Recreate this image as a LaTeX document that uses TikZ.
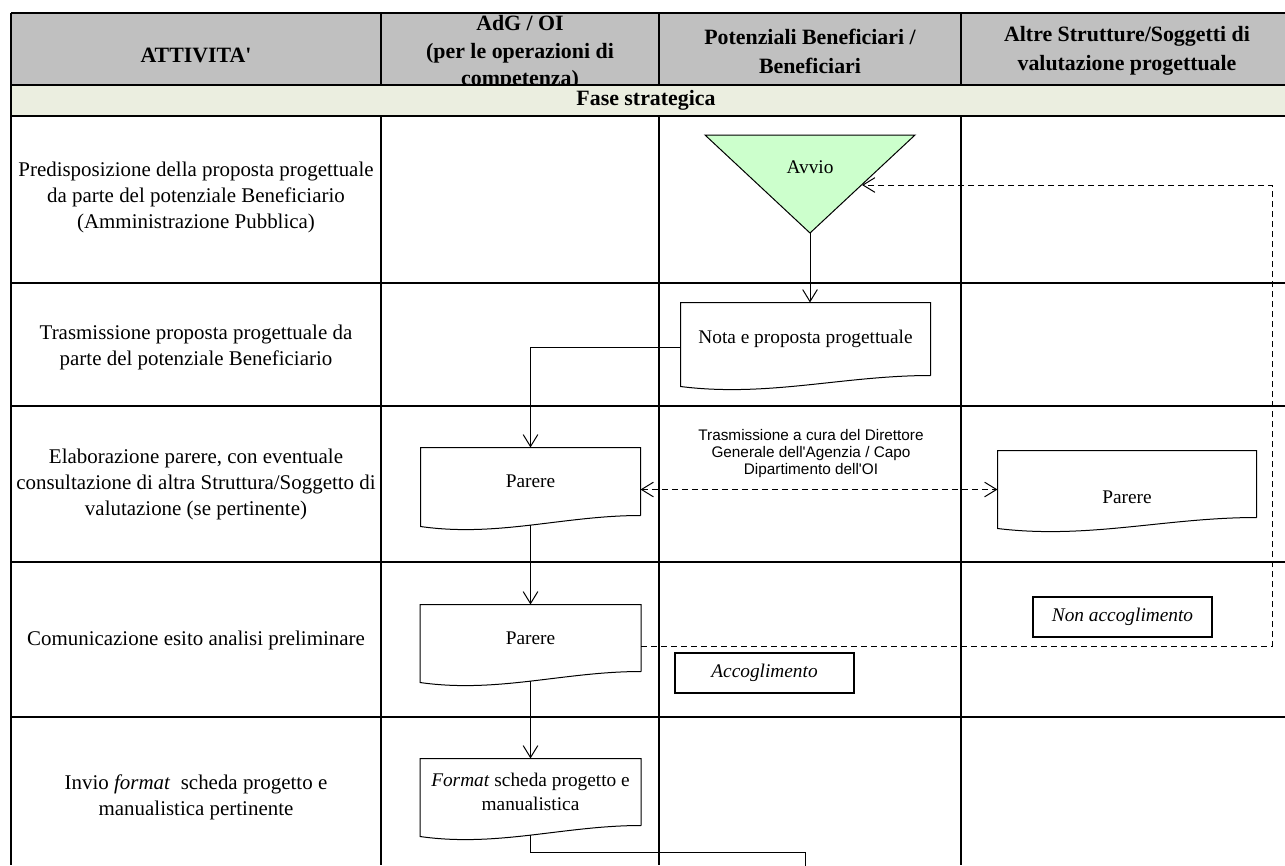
\documentclass[tikz,border=0pt]{standalone}
\usepackage{fontspec}
\setmainfont{Liberation Serif}[Ligatures=TeXOff]
\setsansfont{Liberation Sans}[Ligatures=TeXOff]
\usetikzlibrary{arrows.meta,calc}

\tikzset{every picture/.style={line width=0.75pt}}
\tikzset{
  grid line/.style={line width=1.5pt},
  head text/.style={font=\fontsize{16.4}{21.75}\selectfont\bfseries, align=center, inner sep=0.75pt},
  act text/.style={font=\fontsize{15.7}{19.5}\selectfont, align=center, inner sep=0.75pt},
  doc/.style={draw=none, inner sep=0pt, align=center, font=\fontsize{14.5}{18}\selectfont},
  outcome/.style={draw, line width=1pt, inner sep=0pt, font=\fontsize{14.5}{18}\selectfont\itshape, minimum width=134.25pt, minimum height=30pt},
  note text/.style={font=\fontsize{11.5}{12.75}\selectfont\sffamily, align=center, inner sep=0.75pt},
  flow/.style={-{Straight Barb[length=9pt,width=11pt]}},
  back/.style={dash pattern=on 4.5pt off 3pt}
}
\newcommand{\docoutline}[1]{%
  \draw (#1.south east) -- (#1.north east) -- (#1.north west) -- ($(#1.south west)+(0,11)$) .. controls ($(#1.south west)!0.35!(#1.south east)+(0,22)$) and ($(#1.south west)!0.65!(#1.south east)$) .. (#1.south east);}

\begin{document}
\begin{tikzpicture}[x=0.75pt,y=0.75pt,yscale=-1,xscale=1]
%set diagram left start at 0, and has height of 865
\useasboundingbox (0,0) rectangle (1285,865);
\clip (0,0) rectangle (1285,865);

%Shape: Rectangle (header)
\fill [fill={rgb, 255:red, 192; green, 192; blue, 192 }] (11,13) rectangle (1293,85);
% Text Node
\node (hAtt) [head text] at (196,55) {ATTIVITA'};
% Text Node
\node (hAdg) [head text, font=\fontsize{16.4}{20.5}\selectfont\bfseries] at (520,53) {AdG / OI\\(per le operazioni di\\competenza)};
% Text Node
\node (hBen) [head text] at (810,51) {Potenziali Beneficiari /\\Beneficiari};
% Text Node
\node (hAlt) [head text] at (1127,51) {Altre Strutture/Soggetti di\\valutazione progettuale};

%Shape: Rectangle (phase band)
\fill [fill={rgb, 255:red, 235; green, 238; blue, 224 }] (11,85) rectangle (1293,116);
% Text Node
\node (fase) [head text] at (646,100) {Fase strategica};

%Straight Lines (table)
\draw [grid line] (11,13) -- (1293,13);
\draw [grid line] (11,85) -- (1293,85);
\draw [grid line] (11,116) -- (1293,116);
\draw [grid line] (11,283) -- (1293,283);
\draw [grid line] (11,406) -- (1293,406);
\draw [grid line] (11,562) -- (1293,562);
\draw [grid line] (11,717) -- (1293,717);
\draw [grid line] (11,13) -- (11,865);
\draw [grid line] (381,13) -- (381,85);
\draw [grid line] (381,116) -- (381,865);
\draw [grid line] (659,13) -- (659,85);
\draw [grid line] (659,116) -- (659,865);
\draw [grid line] (961,13) -- (961,85);
\draw [grid line] (961,116) -- (961,865);
\draw [grid line] (1293,13) -- (1293,865);

% Text Node
\node (act1) [act text] at (196,197) {Predisposizione della proposta progettuale\\da parte del potenziale Beneficiario\\(Amministrazione Pubblica)};
% Text Node
\node (act2) [act text] at (196,347) {Trasmissione proposta progettuale da\\parte del potenziale Beneficiario};
% Text Node
\node (act3) [act text] at (196,484) {Elaborazione parere, con eventuale\\consultazione di altra Struttura/Soggetto di\\valutazione (se pertinente)};
% Text Node
\node (act4) [act text] at (196,640) {Comunicazione esito analisi preliminare};
% Text Node
\node (act5) [act text] at (196,797) {Invio \textit{format}\ \ scheda progetto e\\manualistica pertinente};

%Shape: Triangle
\draw [fill={rgb, 255:red, 204; green, 255; blue, 204 }] (705,135) -- (915,135) -- (810,233) -- cycle;
\coordinate (avvioTip) at (810,233);
\coordinate (avvioSide) at (862,185);
% Text Node
\node (avvio) [doc] at (810,167) {Avvio};

%Shape: Document
\node (nota) [doc, minimum width=186.75pt, minimum height=54pt] at (805.5,339) {Nota e proposta progettuale};
\docoutline{nota}
%Shape: Document
\node (par1) [doc, minimum width=164.25pt, minimum height=50.25pt] at (530.5,481.5) {Parere};
\docoutline{par1}
%Shape: Document
\node (par3) [doc, minimum width=193.5pt, minimum height=49.5pt, label={[doc, yshift=-9.75pt]center:Parere}] at (1127,484) {};
\docoutline{par3}
%Shape: Document
\node (par2) [doc, minimum width=165pt, minimum height=49.5pt] at (530.5,638) {Parere};
\docoutline{par2}
%Shape: Document
\node (fmt) [doc, minimum width=165pt, minimum height=49.5pt] at (530.5,792) {\textit{Format} scheda progetto e\\manualistica};
\docoutline{fmt}

%Shape: Rectangle
\node (acc) [outcome] at (764.5,673) {Accoglimento};
%Shape: Rectangle
\node (nonacc) [outcome] at (1122.5,617) {Non accoglimento};

% Text Node
\node (tras) [note text] at (811,454) {Trasmissione a cura del Direttore\\Generale dell'Agenzia / Capo\\Dipartimento dell'OI};

%Straight Lines
\draw [flow] (avvioTip) -- (avvioTip |- nota.north);
\draw [flow] ([yshift=6pt]nota.west) -| (par1.north);
\draw [back, {Straight Barb[length=9pt,width=11pt]}-{Straight Barb[length=9pt,width=11pt]}] ([yshift=6pt]par1.east) -- ([yshift=6pt]par1.east -| par3.west);
\draw [flow] ([yshift=7pt]par1.south) -- (par2.north);
\coordinate (loopTop) at (1272,185);
\draw [back, flow] ([yshift=6pt]par2.east) -| (loopTop) -- (avvioSide);
\draw [flow] ([yshift=7pt]par2.south) -- (fmt.north);
\coordinate (fmtTurn) at (805,852);
\coordinate (fmtOut) at (805,880);
\draw ([yshift=7pt]fmt.south) |- (fmtTurn) -- (fmtOut);
\end{tikzpicture}
\end{document}
